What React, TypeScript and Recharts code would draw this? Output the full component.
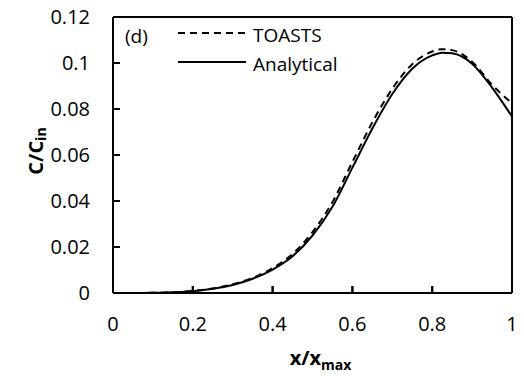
import { LineChart, Line, XAxis, YAxis, ReferenceLine } from 'recharts';

const xPositions = [0, 0.05, 0.1, 0.15, 0.2, 0.25, 0.3, 0.35, 0.4, 0.45, 0.5, 0.55, 0.6, 0.65, 0.7, 0.75, 0.8, 0.825, 0.85, 0.9, 0.95, 1];
const toastsValues = [0, 0, 0.0001, 0.0003, 0.0009, 0.002, 0.0038, 0.0066, 0.0108, 0.017, 0.0265, 0.0395, 0.057, 0.0742, 0.0888, 0.0995, 0.105, 0.106, 0.1056, 0.1005, 0.0905, 0.0825];
const analyticalValues = [0, 0, 0.0001, 0.0003, 0.0008, 0.0018, 0.0035, 0.0062, 0.0102, 0.016, 0.025, 0.0375, 0.0545, 0.0715, 0.0865, 0.0975, 0.1033, 0.1045, 0.1042, 0.0997, 0.0893, 0.0767];

const xTicks = [0, 0.2, 0.4, 0.6, 0.8, 1];
const yTicks = [0, 0.02, 0.04, 0.06, 0.08, 0.1, 0.12];

const panelLabel = '(d)';
const seriesNames = ['TOASTS', 'Analytical'];

const data = xPositions.map((x, i) => ({
  x,
  toasts: toastsValues[i],
  analytical: analyticalValues[i],
}));

const FONT = '"Open Sans", sans-serif';
const TICK_LEN = 7;
const X_MARGIN = 24;
const Y_MARGIN = 23;
// same inward tick length expressed in data units
const xTickLen = 0.003;
const yTickLen = 0.0175;

const isInner = (v: number, ticks: number[]) => v !== ticks[0] && v !== ticks[ticks.length - 1];

// label plus a short inward tick mark (Excel style)
function XTick(props: any) {
  const { x, y, payload } = props;
  const axisY = Number(y) - X_MARGIN;
  return (
    <g>
      {isInner(payload.value, xTicks) && (
        <line x1={x} x2={x} y1={axisY} y2={axisY - TICK_LEN} stroke="#000" strokeWidth={2} />
      )}
      <text x={x} y={y} dy="0.71em" textAnchor="middle" fontFamily={FONT} fontSize={20} fill="#000">
        {payload.value}
      </text>
    </g>
  );
}

function YTick(props: any) {
  const { x, y, payload } = props;
  const axisX = Number(x) + Y_MARGIN;
  return (
    <g>
      {isInner(payload.value, yTicks) && (
        <line x1={axisX} x2={axisX + TICK_LEN} y1={y} y2={y} stroke="#000" strokeWidth={2} />
      )}
      <text x={x} y={y} dy="0.355em" textAnchor="end" fontFamily={FONT} fontSize={20} fill="#000">
        {payload.value}
      </text>
    </g>
  );
}

function YTitle({ viewBox }: any) {
  const cx = viewBox.x + 35;
  const cy = viewBox.y + viewBox.height / 2 - 4;
  return (
    <text
      x={cx}
      y={cy}
      transform={`rotate(-90 ${cx} ${cy})`}
      textAnchor="middle"
      dominantBaseline="central"
      fontFamily={FONT}
      fontWeight={700}
      fontSize={20}
      fill="#000"
    >
      C/C
      <tspan fontSize={14} dy={5}>in</tspan>
    </text>
  );
}

function XTitle({ viewBox }: any) {
  const cx = viewBox.x + viewBox.width / 2 + 8;
  return (
    <text
      x={cx}
      y={viewBox.y + 72}
      textAnchor="middle"
      fontFamily={FONT}
      fontWeight={700}
      fontSize={20}
      fill="#000"
    >
      x/x
      <tspan fontSize={14} dy={5}>max</tspan>
    </text>
  );
}

// legend drawn as an overlay so it doesn't eat plot space
function LegendBox() {
  return (
    <svg
      width={260}
      height={80}
      style={{ position: 'absolute', left: 113, top: 0, pointerEvents: 'none' }}
    >
      <text x={12} y={43} fontFamily={FONT} fontSize={19} fill="#000">
        {panelLabel}
      </text>
      <line x1={65} x2={133} y1={33} y2={33} stroke="#000" strokeWidth={2} strokeDasharray="7 5" />
      <text x={140} y={42} fontFamily={FONT} fontSize={19} fill="#000">
        {seriesNames[0]}
      </text>
      <line x1={65} x2={133} y1={62} y2={62} stroke="#000" strokeWidth={2} />
      <text x={140} y={71} fontFamily={FONT} fontSize={19} fill="#000">
        {seriesNames[1]}
      </text>
    </svg>
  );
}

export default function App() {
  return (
    <div style={{ position: 'absolute', left: 0, top: 0, width: 524, height: 381, background: '#fff' }}>
      <LineChart
        width={524}
        height={381}
        data={data}
        margin={{ top: 17, right: 12, left: 0, bottom: 0 }}
      >
        <XAxis
          dataKey="x"
          type="number"
          domain={[0, 1]}
          ticks={xTicks}
          height={88}
          stroke="#000"
          strokeWidth={2}
          tickLine={false}
          tickSize={0}
          tickMargin={X_MARGIN}
          tick={(p: any) => <XTick {...p} />}
          label={<XTitle />}
        />
        <YAxis
          type="number"
          domain={[0, 0.12]}
          ticks={yTicks}
          width={113}
          stroke="#000"
          strokeWidth={2}
          tickLine={false}
          tickSize={0}
          tickMargin={Y_MARGIN}
          tick={(p: any) => <YTick {...p} />}
          label={<YTitle />}
        />
        {xTicks.filter((t) => isInner(t, xTicks)).map((t) => (
          <ReferenceLine
            key={`xt${t}`}
            ifOverflow="visible"
            segment={[{ x: t, y: 0 }, { x: t, y: xTickLen }]}
            stroke="#000"
            strokeWidth={2}
          />
        ))}
        {yTicks.filter((t) => isInner(t, yTicks)).map((t) => (
          <ReferenceLine
            key={`yt${t}`}
            ifOverflow="visible"
            segment={[{ x: 0, y: t }, { x: yTickLen, y: t }]}
            stroke="#000"
            strokeWidth={2}
          />
        ))}
        <ReferenceLine y={0.12} stroke="#000" strokeWidth={2} />
        <ReferenceLine x={1} stroke="#000" strokeWidth={2} />
        <Line
          type="monotone"
          dataKey="toasts"
          stroke="#000"
          strokeWidth={2}
          strokeDasharray="7 5"
          dot={false}
          isAnimationActive={false}
        />
        <Line
          type="monotone"
          dataKey="analytical"
          stroke="#000"
          strokeWidth={2}
          dot={false}
          isAnimationActive={false}
        />
      </LineChart>
      <LegendBox />
    </div>
  );
}
